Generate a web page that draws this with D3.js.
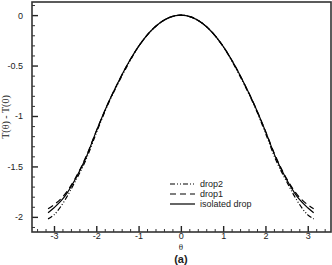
<!DOCTYPE html>
<html>
<head>
<meta charset="utf-8">
<script src="https://cdn.jsdelivr.net/npm/d3@7"></script>
<style>
  body { margin: 0; background: #fff; }
  svg { display: block; }
  text { font-family: "Liberation Sans", Arial, sans-serif; fill: #222; }
</style>
</head>
<body>
<div id="chart"></div>
<script>
var theta = [-3.14, -3.0, -2.75, -2.5, -2.25, -2.0, -1.75, -1.5, -1.25, -1.0, -0.75, -0.5, -0.25, 0,
             0.25, 0.5, 0.75, 1.0, 1.25, 1.5, 1.75, 2.0, 2.25, 2.5, 2.75, 3.0, 3.14];

// T(theta) - T(0) for each case
var isolated = [-1.96, -1.91, -1.80, -1.63, -1.42, -1.15, -0.90, -0.68, -0.48, -0.31, -0.175, -0.078, -0.02, 0,
                -0.02, -0.078, -0.175, -0.31, -0.48, -0.68, -0.90, -1.15, -1.42, -1.63, -1.80, -1.91, -1.96];
var drop1    = [-1.92, -1.88, -1.78, -1.62, -1.41, -1.15, -0.90, -0.68, -0.48, -0.31, -0.175, -0.078, -0.02, 0,
                -0.02, -0.078, -0.175, -0.31, -0.48, -0.68, -0.90, -1.15, -1.41, -1.62, -1.78, -1.88, -1.92];
var drop2    = [-2.02, -1.98, -1.84, -1.65, -1.44, -1.17, -0.91, -0.69, -0.49, -0.31, -0.176, -0.079, -0.02, 0,
                -0.02, -0.079, -0.176, -0.31, -0.49, -0.69, -0.91, -1.17, -1.44, -1.65, -1.84, -1.98, -2.02];

var xTicks = [-3, -2, -1, 0, 1, 2, 3];
var yTicks = [0, -0.5, -1, -1.5, -2];

var legendNames = ["drop2", "drop1", "isolated drop"];

var W = 332, H = 265;
// plot box (note: "top" is reserved on window, so use plotTop)
var plotLeft = 32, plotRight = 331, plotTop = 2, plotBottom = 232;

var svg = d3.select("#chart").append("svg")
    .attr("width", W).attr("height", H);

var x = d3.scaleLinear().domain([-3.52, 3.55]).range([plotLeft, plotRight]);
var y = d3.scaleLinear().domain([-2.15, 0.13]).range([plotBottom, plotTop]);

// plain hyphen minus, like the original
var fmt = function(d) { return String(d); };

// minor ticks every 0.2 on x, 0.1 on y
var xMinor = d3.range(-3.4, 3.5, 0.2).filter(function(v) { return Math.abs(Math.round(v) - v) > 0.01; });
var yMinor = d3.range(-2.1, 0.11, 0.1).filter(function(v) { return Math.abs(Math.round(v * 2) / 2 - v) > 0.01; });

// bottom axis, ticks point inward
var xAxis = d3.axisBottom(x).tickValues(xTicks).tickSize(-6).tickPadding(4.5).tickFormat(fmt);
var gx = svg.append("g").attr("transform", "translate(0," + plotBottom + ")").call(xAxis);
gx.select(".domain").remove();
gx.selectAll("text").style("font-size", "9px").attr("dy", "0.3em");
gx.selectAll(".tick line").attr("stroke", "#222").attr("stroke-width", 1.4);

var gxm = svg.append("g").attr("transform", "translate(0," + plotBottom + ")")
    .call(d3.axisBottom(x).tickValues(xMinor).tickSize(-3).tickFormat(""));
gxm.select(".domain").remove();
gxm.selectAll(".tick line").attr("stroke", "#333");

// left axis
var yAxis = d3.axisLeft(y).tickValues(yTicks).tickSize(-6).tickPadding(9).tickFormat(fmt);
var gy = svg.append("g").attr("transform", "translate(" + plotLeft + ",0)").call(yAxis);
gy.select(".domain").remove();
gy.selectAll("text").style("font-size", "9px");
gy.selectAll(".tick line").attr("stroke", "#222").attr("stroke-width", 1.4);

var gym = svg.append("g").attr("transform", "translate(" + plotLeft + ",0)")
    .call(d3.axisLeft(y).tickValues(yMinor).tickSize(-3).tickFormat(""));
gym.select(".domain").remove();
gym.selectAll(".tick line").attr("stroke", "#333");

// frame
svg.append("rect")
    .attr("x", plotLeft).attr("y", plotTop)
    .attr("width", plotRight - plotLeft).attr("height", plotBottom - plotTop)
    .attr("fill", "none").attr("stroke", "#333").attr("stroke-width", 1.6);

// curves
var series = [
  { name: "drop2", values: drop2, dash: "5,2,1,2,1,2" },
  { name: "drop1", values: drop1, dash: "6,4" },
  { name: "isolated drop", values: isolated, dash: null }
];

var line = d3.line()
    .x(function(d, i) { return x(theta[i]); })
    .y(function(d) { return y(d); })
    .curve(d3.curveMonotoneX);

series.forEach(function(s) {
  svg.append("path")
      .datum(s.values)
      .attr("d", line)
      .attr("fill", "none")
      .attr("stroke", "#000")
      .attr("stroke-width", 1.2)
      .attr("stroke-dasharray", s.dash);
});

// legend
var lg = svg.append("g");
legendNames.forEach(function(name, i) {
  var s = series[i];
  var ly = 184 + i * 10;
  lg.append("line")
      .attr("x1", 170).attr("x2", 195)
      .attr("y1", ly).attr("y2", ly)
      .attr("stroke", "#000").attr("stroke-width", 1.2)
      .attr("stroke-dasharray", s.dash);
  lg.append("text")
      .attr("x", 200).attr("y", ly)
      .attr("dy", "0.35em")
      .style("font-size", "9px")
      .text(name);
});

// axis titles
svg.append("text")
    .attr("x", x(0)).attr("y", 250)
    .attr("text-anchor", "middle")
    .style("font-family", "'Liberation Serif', serif")
    .style("font-size", "9px")
    .text("θ");

svg.append("text")
    .attr("x", x(0)).attr("y", 262.5)
    .attr("text-anchor", "middle")
    .style("font-size", "11px")
    .style("font-weight", "bold")
    .text("(a)");

svg.append("text")
    .attr("transform", "translate(9," + 117 + ") rotate(-90)")
    .attr("text-anchor", "middle")
    .style("font-family", "'Liberation Serif', serif")
    .style("font-size", "10px")
    .text("T(θ) - T(0)");
</script>
</body>
</html>
